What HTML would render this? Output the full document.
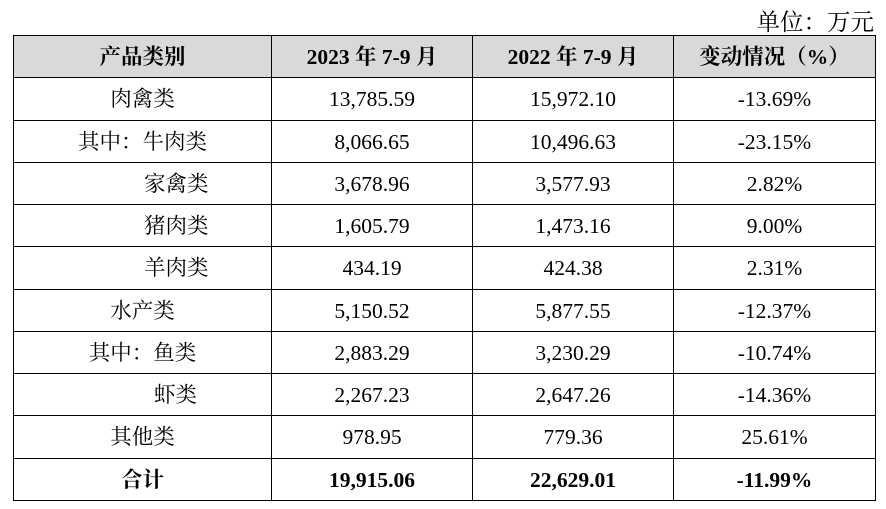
<!DOCTYPE html>
<html>
<head>
<meta charset="utf-8">
<style>
  html, body { margin:0; padding:0; background:#fff; }
  body { width:886px; height:509px; position:relative; overflow:hidden;
         font-family:"Liberation Serif","Noto Serif CJK SC",serif; color:#000; }
  .unit { position:absolute; right:12px; top:5px; font-size:23.5px; line-height:30px; font-family:"Noto Serif CJK SC",serif; }
  table { position:absolute; left:13px; top:35px; border-collapse:collapse; table-layout:fixed;
          width:862px; font-size:21.5px; }
  td { border:1.3px solid #000; text-align:center; padding:0; height:42.25px; line-height:24px; white-space:nowrap; padding-top:1px; box-sizing:border-box; }
  tr.h td { background:#d9d9d9; font-weight:bold; }
  tr.t td { font-weight:bold; }
  td.l1 { text-align:left; padding-left:130px; }
  td.l2 { text-align:left; padding-left:140px; }
</style>
</head>
<body>
<div class="unit">单位：万元</div>
<table>
  <colgroup><col style="width:258px"><col style="width:201px"><col style="width:201px"><col style="width:202px"></colgroup>
  <tr class="h"><td>产品类别</td><td>2023 年 7-9 月</td><td>2022 年 7-9 月</td><td>变动情况（%）</td></tr>
  <tr><td>肉禽类</td><td>13,785.59</td><td>15,972.10</td><td>-13.69%</td></tr>
  <tr><td>其中：牛肉类</td><td>8,066.65</td><td>10,496.63</td><td>-23.15%</td></tr>
  <tr><td class="l1">家禽类</td><td>3,678.96</td><td>3,577.93</td><td>2.82%</td></tr>
  <tr><td class="l1">猪肉类</td><td>1,605.79</td><td>1,473.16</td><td>9.00%</td></tr>
  <tr><td class="l1">羊肉类</td><td>434.19</td><td>424.38</td><td>2.31%</td></tr>
  <tr><td>水产类</td><td>5,150.52</td><td>5,877.55</td><td>-12.37%</td></tr>
  <tr><td>其中：鱼类</td><td>2,883.29</td><td>3,230.29</td><td>-10.74%</td></tr>
  <tr><td class="l2">虾类</td><td>2,267.23</td><td>2,647.26</td><td>-14.36%</td></tr>
  <tr><td>其他类</td><td>978.95</td><td>779.36</td><td>25.61%</td></tr>
  <tr class="t"><td>合计</td><td>19,915.06</td><td>22,629.01</td><td>-11.99%</td></tr>
</table>
</body>
</html>
